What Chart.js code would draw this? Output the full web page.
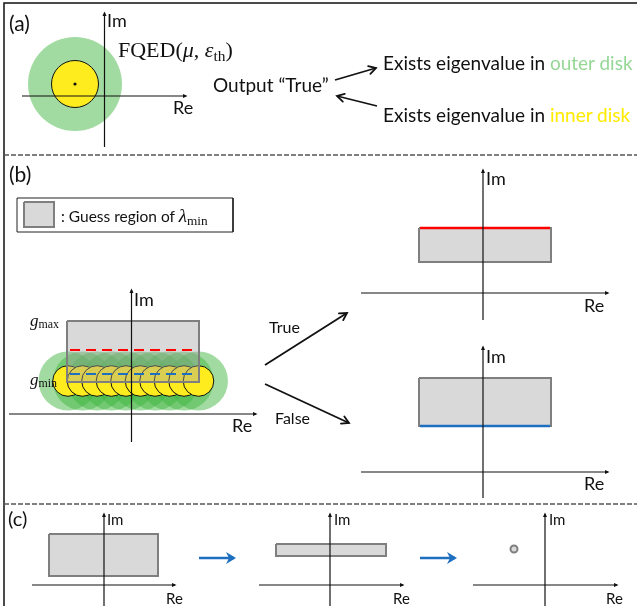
<!DOCTYPE html>
<html>
<head>
<meta charset="utf-8">
<script src="https://cdn.jsdelivr.net/npm/chart.js@4.4.1/dist/chart.umd.min.js"></script>
<style>
  html, body { margin: 0; padding: 0; background: #fff; }
  #wrap { position: relative; width: 638px; height: 606px; overflow: hidden; }
  #fig { position: absolute; left: 0; top: 0; }
  .t { position: absolute; white-space: nowrap; line-height: 1; transform: translateY(-50%);
       font-family: Lato, "Open Sans", sans-serif; color: #111; }
  .m { font-family: "Liberation Serif", "DejaVu Serif", serif; }
  .m i { font-style: italic; }
  .m sub { font-size: 70%; vertical-align: -0.25em; line-height: 0; }
</style>
</head>
<body>
<div id="wrap">
  <canvas id="fig" width="638" height="606"></canvas>

  <span class="t" style="left:9px;top:22px;font-size:21px">(a)</span>
  <span class="t" style="left:107px;top:20px;font-size:18px">Im</span>
  <span class="t" style="left:173px;top:107px;font-size:18px">Re</span>
  <span class="t m" style="left:118px;top:50px;font-size:22px">FQED(<i>μ</i>, <i>ε</i><sub>th</sub>)</span>
  <span class="t" style="left:213px;top:84px;font-size:19px">Output “True”</span>
  <span class="t" style="left:383px;top:62px;font-size:19px">Exists eigenvalue in <span style="color:#96d796">outer disk</span></span>
  <span class="t" style="left:383px;top:114px;font-size:19px">Exists eigenvalue in <span style="color:#ffeb00">inner disk</span></span>

  <span class="t" style="left:9px;top:173px;font-size:21px">(b)</span>
  <span class="t" style="left:61px;top:215px;font-size:15.5px">: Guess region of <span class="m" style="font-size:19px"><i>λ</i><sub>min</sub></span></span>
  <span class="t" style="left:134px;top:299px;font-size:18px">Im</span>
  <span class="t" style="left:232px;top:425px;font-size:18px">Re</span>
  <span class="t m" style="left:30px;top:320px;font-size:17px"><i>g</i><sub>max</sub></span>
  <span class="t m" style="left:30px;top:379px;font-size:17px"><i>g</i><sub>min</sub></span>
  <span class="t" style="left:269px;top:327px;font-size:16px">True</span>
  <span class="t" style="left:275px;top:418px;font-size:16px">False</span>
  <span class="t" style="left:486px;top:178px;font-size:18px">Im</span>
  <span class="t" style="left:584px;top:305px;font-size:18px">Re</span>
  <span class="t" style="left:486px;top:356px;font-size:18px">Im</span>
  <span class="t" style="left:584px;top:483px;font-size:18px">Re</span>

  <span class="t" style="left:8px;top:518px;font-size:20px">(c)</span>
  <span class="t" style="left:107px;top:519px;font-size:15px">Im</span>
  <span class="t" style="left:166px;top:598px;font-size:15px">Re</span>
  <span class="t" style="left:334px;top:519px;font-size:15px">Im</span>
  <span class="t" style="left:393px;top:598px;font-size:15px">Re</span>
  <span class="t" style="left:549px;top:519px;font-size:15px">Im</span>
  <span class="t" style="left:606px;top:598px;font-size:15px">Re</span>
</div>

<script>
// figure space is the page itself: x 0..638, y 0..606 (downwards)

// outer frame and dashed panel separators
const framePath = [[4, 612], [4, 3], [637, 3]];
const separatorYs = [155, 504];
const separatorSpan = [4, 637];

// Re/Im axes, tail -> head
const axisLines = [
  [22, 96, 186, 96], [104.5, 147, 104.5, 13],
  [9, 414, 256, 414], [131.5, 442, 131.5, 290],
  [361, 293, 608, 293], [483, 320, 483, 170],
  [361, 472, 608, 472], [483, 498, 483, 347],
  [32, 585, 175, 585], [104, 612, 104, 514],
  [259, 585, 403, 585], [330, 612, 330, 514],
  [473, 585, 617, 585], [545, 612, 545, 514]
];

// panel (a) disks
const diskA = { x: 75, y: 84 };
const outerRadiusA = 47;
const innerRadiusA = 23.5;

// panel (b) row of disks along g_min
const diskCentersB = [68, 82.5, 97, 111.5, 126, 140.5, 155, 169.5, 184, 198.5];
const diskRowY = 381;
const outerRadiusB = 29.5;
const innerRadiusB = 15.3;

// guess regions [x0, x1, yTop, yBottom]
const guessRegions = [
  [67, 199, 321, 382],
  [419, 551, 228, 262],
  [419, 551, 378, 426],
  [49, 158, 534, 576],
  [276, 386, 544, 556]
];
const legendBox = [17, 233, 198, 232];
const legendSwatch = [24, 54, 202, 227];

// bounds inside (b) left, and the updated edge on the right
const gUpperTry = { x0: 70, x1: 197, y: 350 };
const gLowerTry = { x0: 70, x1: 197, y: 374 };
const trueEdge = { x0: 420, x1: 550, y: 228 };
const falseEdge = { x0: 420, x1: 550, y: 426 };

// arrows, tail -> head
const flowArrows = [[335, 80, 376, 68], [377, 106, 337, 96], [265, 365, 347, 313], [265, 384, 349, 423]];
const stepArrows = [[199, 558, 234, 558], [420, 558, 455, 558]];

// final estimate in (c)
const finalPoint = { x: 514, y: 549, r: 3.5 };

const GREEN = "rgba(60,180,60,0.48)";
const YELLOW = "rgb(255,236,30)";
const REGION_FILL = "rgba(160,160,160,0.4)";
const REGION_EDGE = "#7f7f7f";
const RED = "#ff0000";
const BLUE = "#1f6fc0";

function pts(list) {
  return list.map(p => ({ x: p[0], y: p[1] }));
}

function line(points, color, width, extra) {
  return Object.assign({
    data: points, showLine: true, pointRadius: 0, pointHoverRadius: 0,
    borderColor: color, borderWidth: width, fill: false
  }, extra || {});
}

function pxRadius(ctx) {
  const sx = ctx.chart.scales.x;
  return sx.getPixelForValue(ctx.raw.r) - sx.getPixelForValue(0);
}

function disks(points, fillColor, edgeColor, edgeWidth) {
  return {
    data: points, showLine: false,
    pointRadius: pxRadius, pointHoverRadius: pxRadius,
    backgroundColor: fillColor, borderColor: edgeColor || fillColor,
    borderWidth: edgeWidth || 0, pointHoverBorderWidth: edgeWidth || 0
  };
}

function region(r, fillColor, edgeColor, edgeWidth) {
  return [
    line([{ x: r[0], y: r[2] }, { x: r[1], y: r[2] }], "rgba(0,0,0,0)", 0,
      { fill: { value: r[3] }, backgroundColor: fillColor }),
    line([{ x: r[0], y: r[2] }, { x: r[1], y: r[2] }, { x: r[1], y: r[3] },
          { x: r[0], y: r[3] }, { x: r[0], y: r[2] }], edgeColor, edgeWidth)
  ];
}

// painter's order: first pushed is drawn first
const layers = [];

layers.push(line(pts(framePath), "#111", 1.5));
separatorYs.forEach(y => {
  layers.push(line([{ x: separatorSpan[0], y }, { x: separatorSpan[1], y }], "#555", 1.5, { borderDash: [5, 2] }));
});

// (a)
layers.push(disks([{ x: diskA.x, y: diskA.y, r: outerRadiusA }], GREEN));
layers.push(disks([{ x: diskA.x, y: diskA.y, r: innerRadiusA }], YELLOW, "#111", 1));
layers.push(disks([{ x: diskA.x, y: diskA.y, r: 1.6 }], "#111"));

// (b) legend
layers.push(...region(legendBox, "#fff", "#222", 1));
layers.push(...region(legendSwatch, REGION_FILL, REGION_EDGE, 2));

// (b) left: disks under the guess region
layers.push(disks(diskCentersB.map(x => ({ x, y: diskRowY, r: outerRadiusB })), GREEN));
layers.push(disks(diskCentersB.map(x => ({ x, y: diskRowY, r: innerRadiusB })), YELLOW, "#111", 1));

guessRegions.forEach(r => layers.push(...region(r, REGION_FILL, REGION_EDGE, 2)));

layers.push(line([{ x: gUpperTry.x0, y: gUpperTry.y }, { x: gUpperTry.x1, y: gUpperTry.y }], RED, 2.2, { borderDash: [10, 6] }));
layers.push(line([{ x: gLowerTry.x0, y: gLowerTry.y }, { x: gLowerTry.x1, y: gLowerTry.y }], BLUE, 2.2, { borderDash: [10, 6] }));
layers.push(line([{ x: trueEdge.x0, y: trueEdge.y }, { x: trueEdge.x1, y: trueEdge.y }], RED, 2.5));
layers.push(line([{ x: falseEdge.x0, y: falseEdge.y }, { x: falseEdge.x1, y: falseEdge.y }], BLUE, 2.5));

// (c) final point
layers.push(disks([finalPoint], "#d9d9d9", REGION_EDGE, 2));

// axes and arrows on top
axisLines.forEach(a => {
  layers.push(line([{ x: a[0], y: a[1] }, { x: a[2], y: a[3] }], "#111", 1.2, { head: "axis" }));
});
flowArrows.forEach(a => {
  layers.push(line([{ x: a[0], y: a[1] }, { x: a[2], y: a[3] }], "#111", 1.8, { head: "open" }));
});
stepArrows.forEach(a => {
  layers.push(line([{ x: a[0], y: a[1] }, { x: a[2], y: a[3] }], BLUE, 2.5, { head: "bold" }));
});

// Chart.js draws dataset 0 on top, so flip the painter list
const datasets = layers.slice().reverse();

const arrowHeads = {
  id: "arrowHeads",
  afterDatasetsDraw(chart) {
    const c = chart.ctx;
    chart.data.datasets.forEach((ds, i) => {
      if (!ds.head) return;
      const els = chart.getDatasetMeta(i).data;
      const a = els[els.length - 2], b = els[els.length - 1];
      const ang = Math.atan2(b.y - a.y, b.x - a.x);
      c.save();
      c.translate(b.x, b.y);
      c.rotate(ang);
      c.fillStyle = ds.borderColor;
      c.strokeStyle = ds.borderColor;
      if (ds.head === "axis") {
        c.beginPath();
        c.moveTo(1.5, 0); c.lineTo(-3, -2); c.lineTo(-3, 2); c.closePath();
        c.fill();
      } else if (ds.head === "open") {
        c.lineWidth = 1.8;
        c.lineCap = "round";
        c.beginPath();
        c.moveTo(-7, -4); c.lineTo(0, 0); c.lineTo(-7, 4);
        c.stroke();
      } else {
        c.beginPath();
        c.moveTo(2, 0); c.lineTo(-8, -6); c.lineTo(-5, 0); c.lineTo(-8, 6); c.closePath();
        c.fill();
      }
      c.restore();
    });
  }
};

new Chart(document.getElementById("fig"), {
  type: "scatter",
  data: { datasets },
  options: {
    responsive: false,
    animation: false,
    events: [],
    devicePixelRatio: 1,
    layout: { padding: 0 },
    plugins: { legend: { display: false }, tooltip: { enabled: false } },
    elements: { line: { tension: 0 } },
    scales: {
      x: { type: "linear", min: 0, max: 638, display: false },
      y: { type: "linear", min: 0, max: 606, reverse: true, display: false }
    }
  },
  plugins: [arrowHeads]
});
</script>
</body>
</html>
